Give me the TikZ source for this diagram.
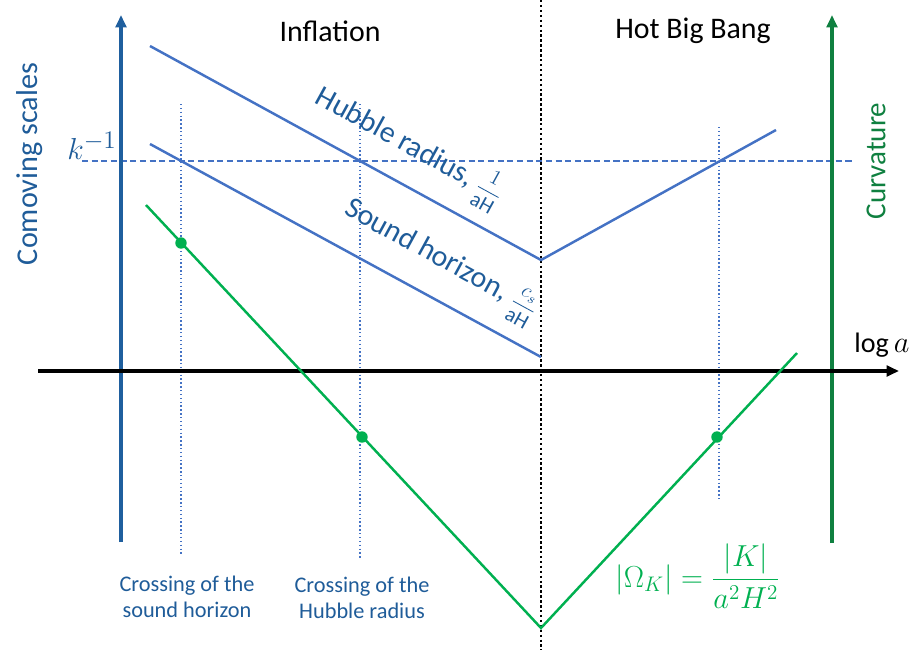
\documentclass[tikz,border=0pt]{standalone}
\usepackage{fontspec}
\setmainfont{Carlito}
\usepackage{amsmath}
\usetikzlibrary{arrows.meta}
\definecolor{axblue}{HTML}{1F5F9E}
\definecolor{lnblue}{HTML}{4472C4}
\definecolor{txblue}{HTML}{1F5C99}
\definecolor{axgreen}{HTML}{0F8040}
\definecolor{lngreen}{HTML}{00B050}
\begin{document}
\begin{tikzpicture}[x=0.02cm,y=-0.02cm,
  axisline/.style={line width=1.8pt,-{Triangle[length=7pt,width=6pt]}},
  curve/.style={line width=1.4pt,color=lnblue},
  gcurve/.style={line width=1.4pt,color=lngreen},
  guide/.style={color=lnblue,line width=0.8pt,dash pattern=on 0.8pt off 1.4pt},
  dot/.style={circle,fill=lngreen,inner sep=0pt,minimum size=6.5pt},
  lbl/.style={font=\fontsize{17}{20}\selectfont},
  small/.style={font=\fontsize{12.7}{15}\selectfont,color=txblue,align=center}]
\useasboundingbox (0,0) rectangle (914,650);
% coordinates
\coordinate (by0) at (121,542);
\coordinate (by1) at (121,15);
\coordinate (gy0) at (832,543);
\coordinate (gy1) at (832,15);
\coordinate (x0) at (38,371);
\coordinate (x1) at (899,371);
\coordinate (h0) at (150,46);
\coordinate (hm) at (541,260);
\coordinate (h1) at (776,130);
\coordinate (s0) at (150,144);
\coordinate (s1) at (541,357);
\coordinate (g0) at (146,205);
\coordinate (gm) at (541,628);
\coordinate (g1) at (797,353);
\coordinate (v0) at (541,0);
\coordinate (v1) at (541,650);
\coordinate (k0) at (82,161);
\coordinate (k1) at (852,161);
\coordinate (a0) at (181,104);
\coordinate (a1) at (181,556);
\coordinate (b0) at (360,104);
\coordinate (b1) at (360,560);
\coordinate (c0) at (719,127);
\coordinate (c1) at (719,500);
% dividing line
\draw[line width=0.7pt,dash pattern=on 1.4pt off 1.4pt] (v0) -- (v1);
% guides
\draw[guide] (a0) -- (a1);
\draw[guide] (b0) -- (b1);
\draw[guide] (c0) -- (c1);
\draw[color=lnblue,line width=0.7pt,dash pattern=on 3.5pt off 2pt] (k0) -- (k1);
% axes
\draw[axisline,color=axblue] (by0) -- (by1);
\draw[axisline,color=axgreen] (gy0) -- (gy1);
\draw[axisline,color=black] (x0) -- (x1);
% curves
\draw[curve] (h0) -- (hm) -- (h1);
\draw[curve] (s0) -- (s1);
\draw[gcurve] (g0) -- (gm) -- (g1);
\node[dot] (d1) at (181,243) {};
\node[dot] (d2) at (362,437) {};
\node[dot] (d3) at (717,437) {};
% texts
\node[lbl] (tinf) at (330,31) {Inflation};
\node[lbl] (thot) at (693,31) {Hot Big Bang};
\node[color=txblue,rotate=90,font=\fontsize{17.2}{20}\selectfont] (tcom) at (30,164) {Comoving scales};
\node[color=axgreen,rotate=90,font=\fontsize{16.5}{19}\selectfont] (tcur) at (876,161) {Curvature};
\node[color=txblue,font=\fontsize{19}{22}\selectfont] (tk) at (92,146) {$k^{-1}$};
\node[font=\fontsize{16}{19}\selectfont] (tlog) at (882,345) {$\log a$};
\node[color=txblue,rotate=-28.7,font=\fontsize{17}{20}\selectfont] (thub) at (409,147) {Hubble radius, {\fontsize{12}{14}\selectfont$\dfrac{1}{\mathrm{aH}}$}};
\node[color=txblue,rotate=-28.7,font=\fontsize{17}{20}\selectfont] (tsnd) at (440,262) {Sound horizon, {\fontsize{12}{14}\selectfont$\dfrac{c_s}{\mathrm{aH}}$}};
\node[small] (tcs) at (187,597) {Crossing of the\\sound horizon};
\node[small] (tch) at (362,598) {Crossing of the\\Hubble radius};
\node[color=lngreen,font=\fontsize{16.5}{19}\selectfont] (tom) at (698,576) {$|\Omega_K|=\dfrac{|K|}{a^2H^2}$};
\end{tikzpicture}
\end{document}
